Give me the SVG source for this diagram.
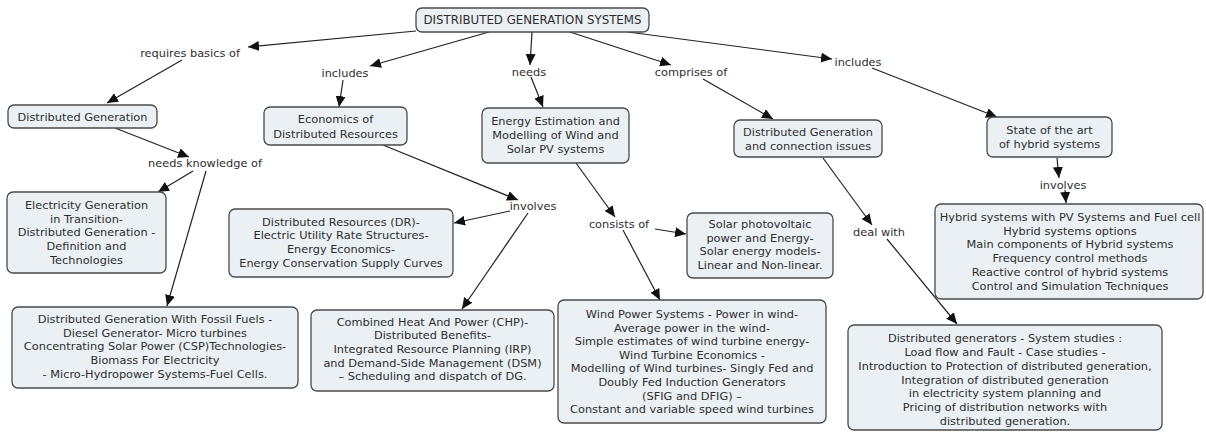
<svg xmlns="http://www.w3.org/2000/svg" width="1206" height="432" viewBox="0 0 1206 432">
  <defs>
    <marker id="arrow" markerUnits="userSpaceOnUse" markerWidth="12" markerHeight="10" refX="11" refY="5" orient="auto">
      <path d="M0,0 L11,5 L0,10 Z" fill="#111"/>
    </marker>
    <style>
      .box { fill: #eaf0f4; stroke: #4a4a4a; stroke-width: 1.3; }
      text { font-family: "DejaVu Sans", Verdana, sans-serif; font-size: 11.35px; fill: #2e2e2e; text-anchor: middle; }
      .title { font-size: 11.8px; }
      .link { stroke: #222; stroke-width: 1.2; fill: none; marker-end: url(#arrow); }
    </style>
  </defs>
  <rect width="1206" height="432" fill="#ffffff"/>

  <!-- connectors -->
  <g id="connectors">
    <line class="link" x1="416" y1="31" x2="248" y2="47"/>
    <line class="link" x1="182" y1="60" x2="107" y2="103"/>
    <line class="link" x1="489" y1="32" x2="370" y2="66"/>
    <line class="link" x1="343" y1="80" x2="339" y2="107"/>
    <line class="link" x1="532" y1="32" x2="530" y2="65"/>
    <line class="link" x1="531" y1="77" x2="543" y2="107"/>
    <line class="link" x1="570" y1="32" x2="671" y2="65"/>
    <line class="link" x1="703" y1="79" x2="773" y2="119"/>
    <line class="link" x1="628" y1="32" x2="832" y2="59"/>
    <line class="link" x1="872" y1="68" x2="997" y2="117"/>
    <line class="link" x1="1057" y1="158" x2="1059" y2="178"/>
    <line class="link" x1="1065" y1="190" x2="1066" y2="203"/>
    <line class="link" x1="115" y1="128" x2="189" y2="157"/>
    <line class="link" x1="193" y1="171" x2="158" y2="192"/>
    <line class="link" x1="206" y1="171" x2="167" y2="306"/>
    <line class="link" x1="383" y1="145" x2="518" y2="200"/>
    <line class="link" x1="510" y1="211" x2="454" y2="223"/>
    <line class="link" x1="528" y1="213" x2="462" y2="309"/>
    <line class="link" x1="576" y1="163" x2="615" y2="217"/>
    <line class="link" x1="655" y1="229" x2="686" y2="234"/>
    <line class="link" x1="623" y1="230" x2="660" y2="300"/>
    <line class="link" x1="823" y1="158" x2="872" y2="225"/>
    <line class="link" x1="887" y1="239" x2="957" y2="324"/>
  </g>

  <!-- linking phrases -->
  <g id="link-labels">
    <text x="190" y="57">requires basics of</text>
    <text x="345" y="77">includes</text>
    <text x="529" y="76">needs</text>
    <text x="691" y="76">comprises of</text>
    <text x="858" y="66">includes</text>
    <text x="205" y="167">needs knowledge of</text>
    <text x="533" y="210">involves</text>
    <text x="619" y="228">consists of</text>
    <text x="1063" y="189">involves</text>
    <text x="879" y="236">deal with</text>
  </g>

  <g id="root">
    <rect class="box" x="416" y="8" width="233" height="24" rx="6"/>
    <text class="title" x="532.5" y="24">DISTRIBUTED GENERATION SYSTEMS</text>
  </g>

  <g id="distributed-generation">
    <rect class="box" x="8" y="105" width="149" height="23" rx="6"/>
    <text x="82.5" y="120.5">Distributed Generation</text>
  </g>

  <g id="economics">
    <rect class="box" x="264" y="107" width="143" height="38" rx="6"/>
    <text x="335.5" y="123">Economics of</text>
    <text x="335.5" y="137.5">Distributed Resources</text>
  </g>

  <g id="energy-estimation">
    <rect class="box" x="482" y="108" width="147" height="55" rx="6"/>
    <text x="555.5" y="124.5">Energy Estimation and</text>
    <text x="555.5" y="139">Modelling of Wind and</text>
    <text x="555.5" y="153">Solar PV systems</text>
  </g>

  <g id="connection-issues">
    <rect class="box" x="734" y="120" width="148" height="37" rx="6"/>
    <text x="808" y="135.5">Distributed Generation</text>
    <text x="808" y="149.5">and connection issues</text>
  </g>

  <g id="hybrid-state">
    <rect class="box" x="987" y="117" width="125" height="40" rx="6"/>
    <text x="1049.5" y="134">State of the art</text>
    <text x="1049.5" y="148">of hybrid systems</text>
  </g>

  <g id="electricity-generation">
    <rect class="box" x="7" y="192" width="159" height="81" rx="6"/>
    <text x="86.5" y="209">Electricity Generation</text>
    <text x="86.5" y="222.7">in  Transition-</text>
    <text x="86.5" y="236.4">Distributed Generation -</text>
    <text x="86.5" y="250">Definition and</text>
    <text x="86.5" y="263.8">Technologies</text>
  </g>

  <g id="distributed-resources">
    <rect class="box" x="229" y="209" width="224" height="68" rx="6"/>
    <text x="341" y="225.5">Distributed Resources (DR)-</text>
    <text x="341" y="239.2">Electric Utility Rate Structures-</text>
    <text x="341" y="253">Energy Economics-</text>
    <text x="341" y="266.7">Energy Conservation Supply Curves</text>
  </g>

  <g id="solar-pv">
    <rect class="box" x="687" y="213" width="146" height="65" rx="6"/>
    <text x="760" y="228">Solar photovoltaic</text>
    <text x="760" y="241.7">power and Energy-</text>
    <text x="760" y="255.4">Solar energy models-</text>
    <text x="760" y="269">Linear and Non-linear.</text>
  </g>

  <g id="hybrid-topics">
    <rect class="box" x="935" y="204" width="268" height="95" rx="6"/>
    <text x="1070" y="221">Hybrid systems with PV Systems and Fuel cell</text>
    <text x="1070" y="234.7">Hybrid systems options</text>
    <text x="1070" y="248.4">Main components of Hybrid systems</text>
    <text x="1070" y="262">Frequency control methods</text>
    <text x="1070" y="275.8">Reactive control of hybrid systems</text>
    <text x="1070" y="289.5">Control and Simulation Techniques</text>
  </g>

  <g id="fossil-fuels">
    <rect class="box" x="12" y="307" width="286" height="81" rx="6"/>
    <text x="155" y="323">Distributed Generation With Fossil Fuels -</text>
    <text x="155" y="336.7">Diesel Generator- Micro turbines</text>
    <text x="155" y="350.4">Concentrating Solar Power (CSP)Technologies-</text>
    <text x="155" y="364">Biomass For Electricity</text>
    <text x="155" y="377.8">- Micro-Hydropower Systems-Fuel Cells.</text>
  </g>

  <g id="chp">
    <rect class="box" x="311" y="310" width="243" height="81" rx="6"/>
    <text x="432.5" y="325.5">Combined Heat And Power (CHP)-</text>
    <text x="432.5" y="339.2">Distributed Benefits-</text>
    <text x="432.5" y="353">Integrated Resource Planning (IRP)</text>
    <text x="432.5" y="366.7">and Demand-Side Management (DSM)</text>
    <text x="432.5" y="380.4">– Scheduling and dispatch of DG.</text>
  </g>

  <g id="wind-power">
    <rect class="box" x="558" y="300" width="268" height="123" rx="6"/>
    <text x="692" y="318">Wind Power Systems - Power in wind-</text>
    <text x="692" y="331.6">Average power in the wind-</text>
    <text x="692" y="345.2">Simple estimates of wind turbine energy-</text>
    <text x="692" y="358.8">Wind Turbine Economics -</text>
    <text x="692" y="372.4">Modelling of Wind turbines- Singly Fed and</text>
    <text x="692" y="386">Doubly Fed Induction Generators</text>
    <text x="692" y="399.6">(SFIG and DFIG) –</text>
    <text x="692" y="413.2">Constant and variable speed wind turbines</text>
  </g>

  <g id="system-studies">
    <rect class="box" x="848" y="325" width="314" height="105" rx="6"/>
    <text x="1005" y="342.3">Distributed generators - System studies :</text>
    <text x="1005" y="356">Load flow and Fault - Case studies -</text>
    <text x="1005" y="369.8">Introduction to Protection of distributed generation,</text>
    <text x="1005" y="383.5">Integration of distributed generation</text>
    <text x="1005" y="397.3">in electricity system planning and</text>
    <text x="1005" y="411">Pricing of distribution networks with</text>
    <text x="1005" y="424.8">distributed generation.</text>
  </g>
</svg>
